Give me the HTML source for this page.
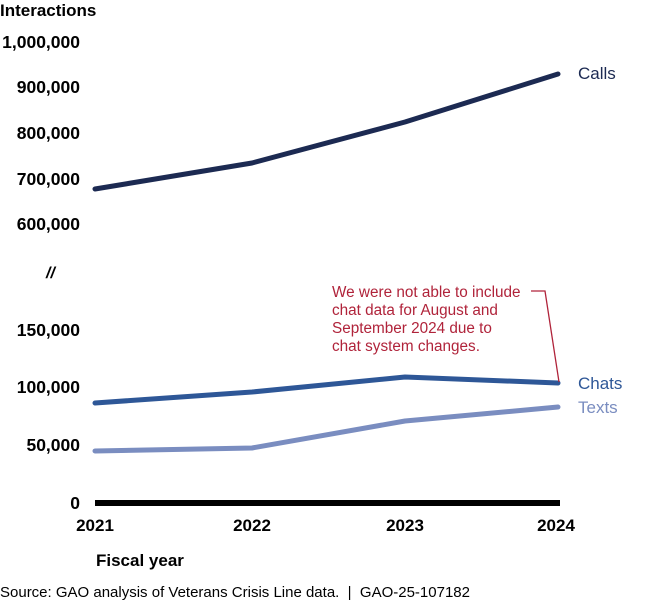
<!DOCTYPE html>
<html><head><style>body{margin:0;background:#fff}svg{display:block}</style></head><body>
<svg width="650" height="601" xmlns="http://www.w3.org/2000/svg" font-family="Liberation Sans, Arial, sans-serif">
<text x="0" y="16" font-size="17" font-weight="bold" fill="#000">Interactions</text>
<g font-size="17.5" font-weight="bold" fill="#000" text-anchor="end">
<text x="80" y="48">1,000,000</text>
<text x="80" y="93">900,000</text>
<text x="80" y="139">800,000</text>
<text x="80" y="185">700,000</text>
<text x="80" y="230">600,000</text>
<text x="80" y="336">150,000</text>
<text x="80" y="393">100,000</text>
<text x="80" y="451">50,000</text>
<text x="80" y="509">0</text>
</g>
<text x="46" y="278" font-size="16" font-weight="bold" font-style="italic">//</text>
<line x1="95" y1="503" x2="560" y2="503" stroke="#000" stroke-width="6"/>
<g font-size="17" font-weight="bold" text-anchor="middle">
<text x="95" y="531">2021</text><text x="252" y="531">2022</text><text x="405" y="531">2023</text><text x="556" y="531">2024</text>
</g>
<text x="96" y="566" font-size="17" font-weight="bold">Fiscal year</text>
<polyline points="95,189 252,163 405,122 558,74" fill="none" stroke="#1c2a52" stroke-width="5" stroke-linecap="round" stroke-linejoin="round"/>
<polyline points="95,403 252,392 405,377 558,383" fill="none" stroke="#2e5797" stroke-width="5" stroke-linecap="round" stroke-linejoin="round"/>
<polyline points="95,451 252,448 405,421 558,407" fill="none" stroke="#7a8dc0" stroke-width="5" stroke-linecap="round" stroke-linejoin="round"/>
<text x="578" y="79" font-size="17" fill="#1c2a52">Calls</text>
<text x="578" y="389" font-size="17" fill="#2e5797">Chats</text>
<text x="578" y="413" font-size="17" fill="#7a8dc0">Texts</text>
<g font-size="15.3" fill="#b0233a">
<text x="332" y="297">We were not able to include</text>
<text x="332" y="315">chat data for August and</text>
<text x="332" y="333">September 2024 due to</text>
<text x="332" y="351">chat system changes.</text>
</g>
<polyline points="531,291 545,291 559,382" fill="none" stroke="#b0233a" stroke-width="1.3"/>
<text x="0" y="597" font-size="15" fill="#000">Source: GAO analysis of Veterans Crisis Line data.&#160; |&#160; GAO-25-107182</text>
</svg>
</body></html>
